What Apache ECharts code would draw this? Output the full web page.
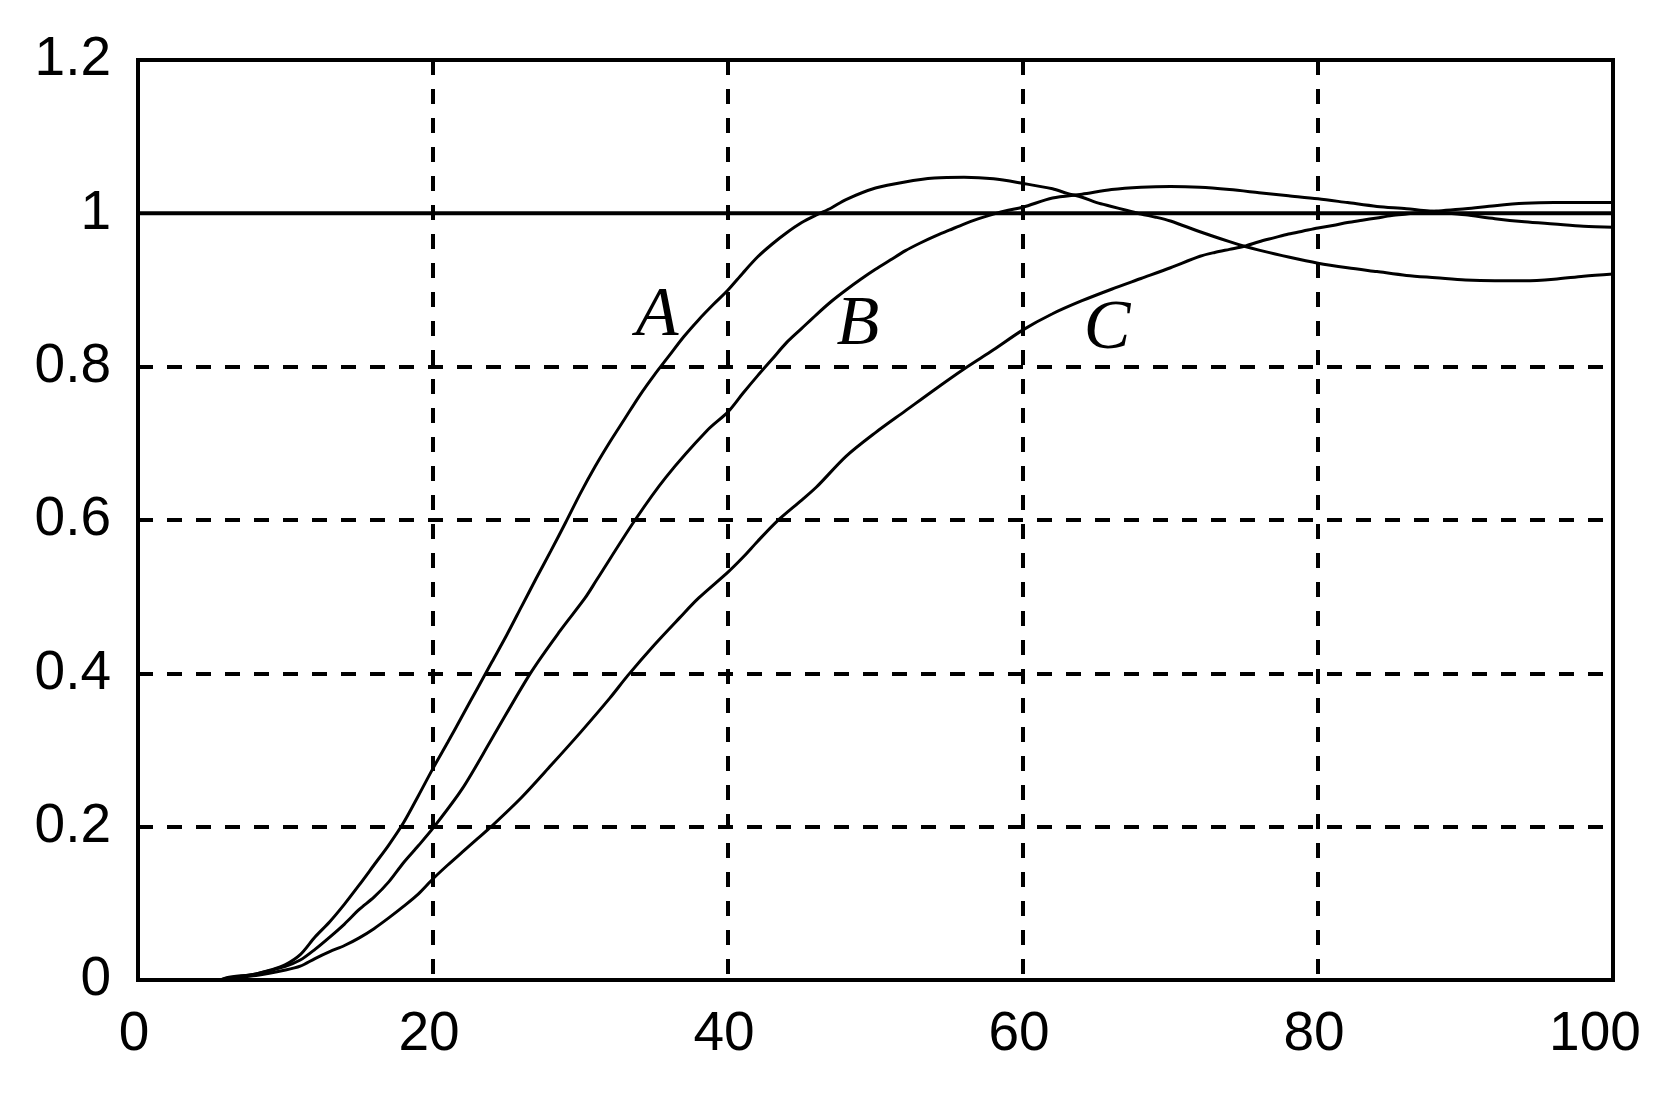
<!DOCTYPE html>
<html>
<head>
<meta charset="utf-8">
<script src="https://cdn.jsdelivr.net/npm/echarts@6/dist/echarts.min.js"></script>
<style>
html,body{margin:0;padding:0;background:#fff;}
#c{width:1661px;height:1095px;}
</style>
</head>
<body>
<div id="c"></div>
<script>
// x ticks and y ticks
const xTicks = [0, 20, 40, 60, 80, 100];
const yTicks = [0, 0.2, 0.4, 0.6, 0.8, 1, 1.2];

// Curve A
const aX = [0, 5.5, 6, 8, 9, 10, 11, 12, 13, 14, 15, 16, 17, 18, 19, 20, 21, 22, 23, 24, 25, 26, 27, 28, 29, 30, 31, 32, 33, 34, 35, 36, 37, 38, 39, 40, 41, 42, 43, 44, 45, 46, 47, 48, 50, 52, 54, 56, 58, 60, 62, 63, 64, 65, 66, 67, 68, 69, 70, 72, 74, 75, 76, 78, 80, 82, 84, 86, 88, 90, 92, 94, 96, 98, 100];
const aY = [0, 0, 0.003, 0.008, 0.013, 0.02, 0.033, 0.056, 0.076, 0.099, 0.124, 0.15, 0.176, 0.205, 0.24, 0.276, 0.31, 0.345, 0.38, 0.415, 0.45, 0.487, 0.524, 0.56, 0.597, 0.635, 0.67, 0.702, 0.732, 0.762, 0.789, 0.814, 0.839, 0.861, 0.881, 0.9, 0.922, 0.943, 0.96, 0.975, 0.988, 0.998, 1.007, 1.018, 1.033, 1.041, 1.046, 1.047, 1.045, 1.039, 1.032, 1.026, 1.021, 1.014, 1.009, 1.004, 0.999, 0.995, 0.99, 0.976, 0.963, 0.957, 0.952, 0.943, 0.935, 0.929, 0.924, 0.919, 0.916, 0.913, 0.912, 0.912, 0.914, 0.918, 0.921];

// Curve B
const bX = [0, 5.5, 6, 8, 10, 11, 12, 13, 14, 15, 16, 17, 18, 19, 20, 22, 24, 26.6, 28.6, 30.3, 31.1, 33.7, 35.8, 38.6, 40, 41, 42, 43, 44, 45, 46, 47, 48, 49, 50, 51, 52, 53, 54, 55, 56, 57, 58, 59, 60, 62, 64, 66, 68, 70, 72, 74, 76, 78, 80, 82, 84, 86, 88, 90, 92, 94, 96, 98, 100];
const bY = [0, 0, 0.002, 0.008, 0.018, 0.026, 0.04, 0.056, 0.073, 0.092, 0.108, 0.128, 0.153, 0.175, 0.198, 0.25, 0.315, 0.4, 0.455, 0.498, 0.522, 0.6, 0.656, 0.717, 0.741, 0.765, 0.788, 0.81, 0.832, 0.85, 0.868, 0.885, 0.9, 0.914, 0.927, 0.939, 0.951, 0.961, 0.97, 0.978, 0.986, 0.993, 0.999, 1.004, 1.008, 1.02, 1.025, 1.031, 1.034, 1.035, 1.034, 1.031, 1.027, 1.023, 1.019, 1.014, 1.009, 1.006, 1.002, 0.998, 0.993, 0.989, 0.986, 0.983, 0.982];

// Curve C
const cX = [0, 5.5, 6, 8, 10, 11, 12, 13, 14, 15, 16, 17, 18, 19, 20, 21, 22, 23, 24, 26, 28, 30, 32, 33.2, 35, 36.7, 38, 40, 41, 42, 43.3, 45, 46, 48, 50, 52, 54, 56, 58, 60, 62, 64, 66, 68, 70, 72, 73, 74, 75, 76, 77, 78, 79, 80, 81, 82, 83, 84, 85, 86, 88, 90, 92, 94, 96, 100];
const cY = [0, 0, 0.002, 0.006, 0.013, 0.018, 0.028, 0.037, 0.045, 0.055, 0.067, 0.081, 0.096, 0.112, 0.132, 0.15, 0.167, 0.184, 0.201, 0.238, 0.28, 0.323, 0.368, 0.397, 0.437, 0.472, 0.498, 0.532, 0.551, 0.572, 0.598, 0.626, 0.643, 0.683, 0.714, 0.742, 0.77, 0.797, 0.822, 0.848, 0.869, 0.886, 0.901, 0.915, 0.929, 0.944, 0.949, 0.953, 0.957, 0.963, 0.968, 0.973, 0.977, 0.981, 0.984, 0.988, 0.991, 0.994, 0.997, 0.999, 1.003, 1.006, 1.01, 1.013, 1.014, 1.014];

// Reference (set-point) line
const refX = [0, 100];
const refY = [1, 1];

// Curve names and label anchor points (data coordinates)
const names = ['A', 'B', 'C'];
const labelX = [35.2, 48.8, 65.7];
const labelY = [0.865, 0.853, 0.848];

function pairs(xs, ys) { return xs.map((x, i) => [x, ys[i]]); }

const chart = echarts.init(document.getElementById('c'), null, {renderer: 'canvas'});
const tickFont = "'Liberation Sans Narrow', 'Liberation Sans', Arial, sans-serif";
const tickSize = 55;
const curveStyle = {color: '#000', width: 3};

function curve(name, xs, ys, k) {
  return {
    name: name, type: 'line', data: pairs(xs, ys), showSymbol: false, symbol: 'none',
    smooth: 0.3, lineStyle: curveStyle, z: 5, animation: false,
    markPoint: {
      symbol: 'circle', symbolSize: 0, animation: false,
      label: {show: true, position: 'inside', formatter: name, color: '#000',
        fontFamily: "'Liberation Serif', 'Times New Roman', serif", fontStyle: 'italic', fontSize: 70},
      data: [{coord: [labelX[k], labelY[k]]}]
    }
  };
}

chart.setOption({
  backgroundColor: '#fff',
  animation: false,
  grid: {left: 138, right: 48, top: 60, bottom: 115, show: true, borderColor: '#000', borderWidth: 4, backgroundColor: 'transparent', z: 10},
  xAxis: {
    type: 'value', min: xTicks[0], max: xTicks[xTicks.length - 1], interval: 20,
    axisLine: {show: false}, axisTick: {show: false},
    axisLabel: {color: '#000', fontFamily: tickFont, fontSize: tickSize, margin: 27,
      formatter: v => v === xTicks[xTicks.length - 1] ? '{last|' + v + '}' : '{n|' + v + '}',
      rich: {
        n: {fontFamily: tickFont, fontSize: tickSize, color: '#000', padding: [0, 8, 0, 0]},
        last: {fontFamily: tickFont, fontSize: tickSize, color: '#000', padding: [0, 36, 0, 0]}
      }},
    splitLine: {show: true, lineStyle: {color: ['transparent', '#000', '#000', '#000', '#000', 'transparent'], type: [15, 14], width: 4}}
  },
  yAxis: {
    type: 'value', min: yTicks[0], max: yTicks[yTicks.length - 1], interval: 0.2,
    axisLine: {show: false}, axisTick: {show: false},
    axisLabel: {color: '#000', fontFamily: tickFont, fontSize: tickSize, margin: 27,
      formatter: v => String(Math.round(v * 10) / 10)},
    splitLine: {show: true, lineStyle: {color: ['transparent', '#000', '#000', '#000', '#000', 'transparent', 'transparent'], type: [15, 14], width: 4}}
  },
  series: [
    {name: 'ref', type: 'line', data: pairs(refX, refY), showSymbol: false, symbol: 'none',
     lineStyle: {color: '#000', width: 4}, z: 4, animation: false},
    curve(names[0], aX, aY, 0),
    curve(names[1], bX, bY, 1),
    curve(names[2], cX, cY, 2)
  ]
});
</script>
</body>
</html>
